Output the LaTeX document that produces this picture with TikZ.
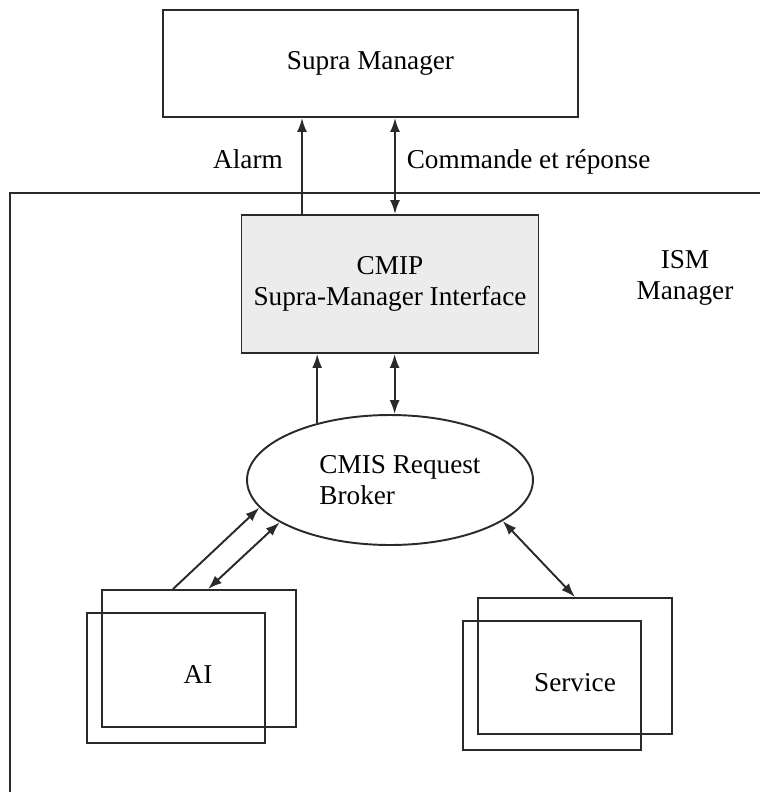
\documentclass[tikz,border=0pt]{standalone}
\usepackage{fontspec}
\setmainfont{Liberation Serif}
\usetikzlibrary{positioning,arrows.meta,shapes.geometric,calc}
\definecolor{boxgray}{HTML}{ECECEC}
\definecolor{inkline}{HTML}{2A2A2A}

\begin{document}
\begin{tikzpicture}[x=0.02cm, y=-0.02cm, line width=1.1pt, draw=inkline,
  font=\fontsize{15.5}{18}\selectfont,
  plainbox/.style={draw=inkline, line width=1.1pt, inner sep=0pt, align=center},
  onetip/.style={-{Latex[length=2.8mm,width=2mm]}, line width=1.1pt, color=inkline},
  twotip/.style={{Latex[length=2.8mm,width=2mm]}-{Latex[length=2.8mm,width=2mm]}, line width=1.1pt, color=inkline}]
\useasboundingbox (0,0) rectangle (760,792);
\draw[inkline] (760,193) -- (10,193) -- (10,792);
\node[plainbox, minimum width=8.3cm, minimum height=2.14cm] (supra) at (370.5,63.5) {Supra Manager};
\node[plainbox, fill=boxgray, minimum width=5.94cm, minimum height=2.76cm] (cmip) at (390,284) {CMIP\\Supra-Manager Interface};
\node[ellipse, draw=inkline, line width=1.1pt, inner sep=0pt, minimum width=5.72cm, minimum height=2.6cm, align=left] (broker) at (390,480) {\hspace*{0.4cm}CMIS Request\\\hspace*{0.4cm}Broker};
\node[align=center] (ism) at (685,278) {ISM\\Manager};
\node[plainbox, minimum width=3.88cm, minimum height=2.74cm] (aiback) at (199,658.5) {};
\node[plainbox, minimum width=3.56cm, minimum height=2.6cm] (aifront) at (176,678) {};
\node (ai) at (198,675) {AI};
\node[plainbox, minimum width=3.88cm, minimum height=2.72cm] (srvback) at (575,666) {};
\node[plainbox, minimum width=3.56cm, minimum height=2.58cm] (srvfront) at (552,685.5) {};
\node (srv) at (575,683) {Service};
\node[anchor=base] (alarm) at (248,168) {Alarm};
\node[anchor=base west] (cmd) at (400,168) {Commande et r\'eponse};
\coordinate (alarmx) at (302,0);
\coordinate (cmdx) at (395,0);
% links to the supra manager
\draw[onetip] (cmip.north -| alarmx) -- (supra.south -| alarmx);
\draw[twotip] (cmip.north -| cmdx) -- (supra.south -| cmdx);
% links between broker and interface
\draw[onetip] (broker.142) -- (broker.142 |- cmip.south);
\draw[twotip] (broker.86) -- (broker.86 |- cmip.south);
% links to the agents
\draw[onetip] ($(aiback.north)+(-26,0)$) -- (broker.192);
\draw[twotip] ($(aiback.north)+(9,0)$) -- (broker.201);
\draw[twotip] (broker.340) -- (srvback.north);
\end{tikzpicture}
\end{document}
